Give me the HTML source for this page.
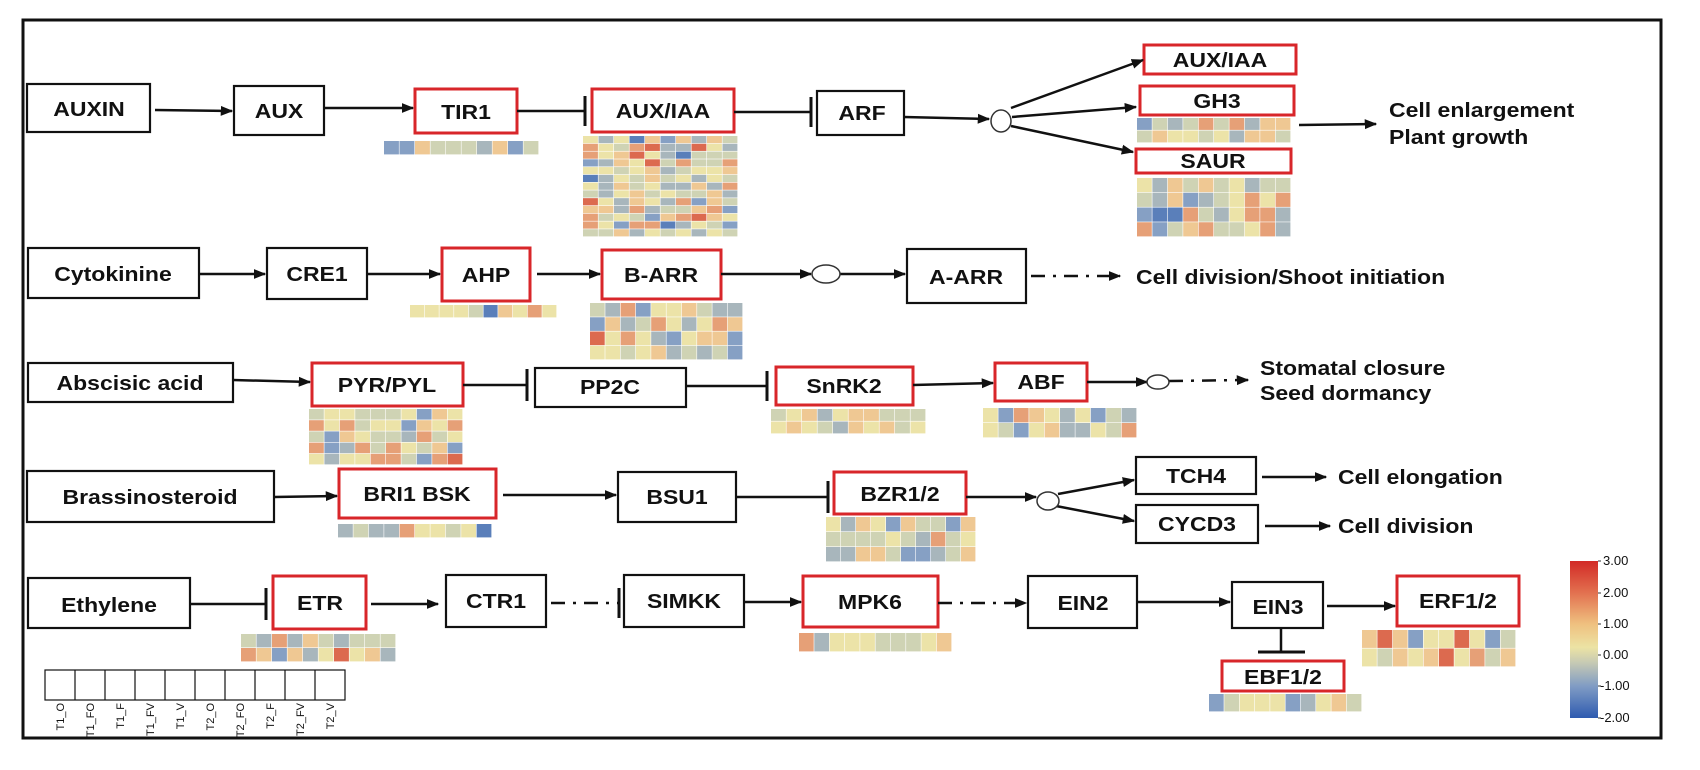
<!DOCTYPE html>
<html><head><meta charset="utf-8">
<style>
html,body{margin:0;padding:0;background:#fff;}
svg{display:block;}
text{font-family:"Liberation Sans",Arial,sans-serif;font-weight:bold;fill:#111;}
</style></head>
<body>
<svg id="s" width="1700" height="770" viewBox="0 0 1700 770" xmlns="http://www.w3.org/2000/svg">
<defs>
<marker id="a" viewBox="0 0 10 10" refX="9" refY="5" markerWidth="5" markerHeight="5" orient="auto"><path d="M0,1 L10,5 L0,9 z" fill="#111"/></marker>
<linearGradient id="cb" x1="0" y1="0" x2="0" y2="1">
<stop offset="0" stop-color="#d22a26"/><stop offset="0.2" stop-color="#e2704f"/><stop offset="0.4" stop-color="#efc07f"/><stop offset="0.55" stop-color="#ece3a4"/><stop offset="0.65" stop-color="#c5c9b4"/><stop offset="0.8" stop-color="#7f9bc4"/><stop offset="1" stop-color="#2e5bb0"/>
</linearGradient>
</defs>
<rect x="23" y="20" width="1638" height="718" fill="none" stroke="#111" stroke-width="3"/>
<g id="boxes" fill="#fff" stroke-width="2.2"></g>
<g id="hm"></g>
<g id="lines" stroke="#111" stroke-width="2.5" fill="none"></g>

<g font-size="20">
<text transform="matrix(1.15 0 0 1 89 109)" text-anchor="middle" dominant-baseline="central">AUXIN</text>
<text transform="matrix(1.15 0 0 1 279 111)" text-anchor="middle" dominant-baseline="central">AUX</text>
<text transform="matrix(1.15 0 0 1 466 112)" text-anchor="middle" dominant-baseline="central">TIR1</text>
<text transform="matrix(1.15 0 0 1 663 111)" text-anchor="middle" dominant-baseline="central">AUX/IAA</text>
<text transform="matrix(1.15 0 0 1 862 113)" text-anchor="middle" dominant-baseline="central">ARF</text>
<text transform="matrix(1.15 0 0 1 1220 60)" text-anchor="middle" dominant-baseline="central">AUX/IAA</text>
<text transform="matrix(1.15 0 0 1 1217 101)" text-anchor="middle" dominant-baseline="central">GH3</text>
<text transform="matrix(1.15 0 0 1 1213 161)" text-anchor="middle" dominant-baseline="central">SAUR</text>
<text transform="matrix(1.15 0 0 1 1389 110)" dominant-baseline="central">Cell enlargement</text>
<text transform="matrix(1.15 0 0 1 1389 137)" dominant-baseline="central">Plant growth</text>

<text transform="matrix(1.15 0 0 1 113 274)" text-anchor="middle" dominant-baseline="central">Cytokinine</text>
<text transform="matrix(1.15 0 0 1 317 274)" text-anchor="middle" dominant-baseline="central">CRE1</text>
<text transform="matrix(1.15 0 0 1 486 275)" text-anchor="middle" dominant-baseline="central">AHP</text>
<text transform="matrix(1.15 0 0 1 661 275)" text-anchor="middle" dominant-baseline="central">B-ARR</text>
<text transform="matrix(1.15 0 0 1 966 277)" text-anchor="middle" dominant-baseline="central">A-ARR</text>
<text transform="matrix(1.15 0 0 1 1136 277)" dominant-baseline="central">Cell division/Shoot initiation</text>

<text transform="matrix(1.15 0 0 1 130 383)" text-anchor="middle" dominant-baseline="central">Abscisic acid</text>
<text transform="matrix(1.15 0 0 1 387 385)" text-anchor="middle" dominant-baseline="central">PYR/PYL</text>
<text transform="matrix(1.15 0 0 1 610 387)" text-anchor="middle" dominant-baseline="central">PP2C</text>
<text transform="matrix(1.15 0 0 1 844 386)" text-anchor="middle" dominant-baseline="central">SnRK2</text>
<text transform="matrix(1.15 0 0 1 1041 382)" text-anchor="middle" dominant-baseline="central">ABF</text>
<text transform="matrix(1.15 0 0 1 1260 368)" dominant-baseline="central">Stomatal closure</text>
<text transform="matrix(1.15 0 0 1 1260 393)" dominant-baseline="central">Seed dormancy</text>

<text transform="matrix(1.15 0 0 1 150 497)" text-anchor="middle" dominant-baseline="central">Brassinosteroid</text>
<text transform="matrix(1.15 0 0 1 417 494)" text-anchor="middle" dominant-baseline="central">BRI1 BSK</text>
<text transform="matrix(1.15 0 0 1 677 497)" text-anchor="middle" dominant-baseline="central">BSU1</text>
<text transform="matrix(1.15 0 0 1 900 494)" text-anchor="middle" dominant-baseline="central">BZR1/2</text>
<text transform="matrix(1.15 0 0 1 1196 476)" text-anchor="middle" dominant-baseline="central">TCH4</text>
<text transform="matrix(1.15 0 0 1 1197 524)" text-anchor="middle" dominant-baseline="central">CYCD3</text>
<text transform="matrix(1.15 0 0 1 1338 477)" dominant-baseline="central">Cell elongation</text>
<text transform="matrix(1.15 0 0 1 1338 526)" dominant-baseline="central">Cell division</text>

<text transform="matrix(1.15 0 0 1 109 605)" text-anchor="middle" dominant-baseline="central">Ethylene</text>
<text transform="matrix(1.15 0 0 1 320 603)" text-anchor="middle" dominant-baseline="central">ETR</text>
<text transform="matrix(1.15 0 0 1 496 601)" text-anchor="middle" dominant-baseline="central">CTR1</text>
<text transform="matrix(1.15 0 0 1 684 601)" text-anchor="middle" dominant-baseline="central">SIMKK</text>
<text transform="matrix(1.15 0 0 1 870 602)" text-anchor="middle" dominant-baseline="central">MPK6</text>
<text transform="matrix(1.15 0 0 1 1083 603)" text-anchor="middle" dominant-baseline="central">EIN2</text>
<text transform="matrix(1.15 0 0 1 1278 607)" text-anchor="middle" dominant-baseline="central">EIN3</text>
<text transform="matrix(1.15 0 0 1 1458 601)" text-anchor="middle" dominant-baseline="central">ERF1/2</text>
<text transform="matrix(1.15 0 0 1 1283 677)" text-anchor="middle" dominant-baseline="central">EBF1/2</text>
</g>

<rect x="1570" y="561" width="28" height="157" fill="url(#cb)"/>
<g font-size="13">
<text x="1603" y="565" style="font-weight:normal">3.00</text>
<text x="1603" y="597" style="font-weight:normal">2.00</text>
<text x="1603" y="628" style="font-weight:normal">1.00</text>
<text x="1603" y="659" style="font-weight:normal">0.00</text>
<text x="1600" y="690" style="font-weight:normal">-1.00</text>
<text x="1600" y="722" style="font-weight:normal">-2.00</text>
</g>
<g stroke="#333" stroke-width="1">
<line x1="1598" y1="561" x2="1601" y2="561"/><line x1="1598" y1="593" x2="1601" y2="593"/><line x1="1598" y1="624" x2="1601" y2="624"/><line x1="1598" y1="655" x2="1601" y2="655"/><line x1="1598" y1="686" x2="1601" y2="686"/><line x1="1598" y1="718" x2="1601" y2="718"/>
</g>

<rect x="45" y="670" width="300" height="30" fill="#fff" stroke="#111" stroke-width="1.2"/>
<g id="leg" stroke="#111" stroke-width="1.2"></g>
<g id="legt" font-size="11"></g>
</svg>
<script>
var NS="http://www.w3.org/2000/svg";
function el(p,t,a){var e=document.createElementNS(NS,t);for(var k in a)e.setAttribute(k,a[k]);document.getElementById(p).appendChild(e);return e;}
var B=[[27,84,150,132,0],[234,86,324,135,0],[415,89,517,133,1],[592,89,734,132,1],[817,91,904,135,0],
[1144,45,1296,74,1],[1140,86,1294,115,1],[1136,149,1291,173,1],
[28,248,199,298,0],[267,248,367,299,0],[442,248,530,301,1],[602,250,721,299,1],[907,249,1026,303,0],
[28,363,233,402,0],[312,363,463,406,1],[535,368,686,407,0],[776,367,913,405,1],[995,363,1087,401,1],
[27,471,274,522,0],[339,469,496,518,1],[618,472,736,522,0],[834,472,966,514,1],[1136,457,1256,494,0],[1136,505,1258,543,0],
[28,578,190,628,0],[273,576,366,629,1],[446,575,546,627,0],[624,575,744,627,0],[803,576,938,627,1],[1028,576,1137,628,0],[1232,582,1323,628,0],[1397,576,1519,626,1],[1222,661,1344,691,1]];
B.forEach(function(b){el("boxes","rect",{x:b[0],y:b[1],width:b[2]-b[0],height:b[3]-b[1],stroke:b[4]?"#d8262a":"#111","stroke-width":b[4]?3:2.2,fill:"#fff"});});
function ar(x1,y1,x2,y2,d){var a={x1:x1,y1:y1,x2:x2,y2:y2,"marker-end":"url(#a)"};if(d)a["stroke-dasharray"]="14 8 3 8";el("lines","line",a);}
function inh(x1,y1,x2,h,d){var a={x1:x1,y1:y1,x2:x2,y2:y1};if(d)a["stroke-dasharray"]="14 8 3 8";el("lines","line",a);el("lines","line",{x1:x2,y1:y1-h,x2:x2,y2:y1+h,"stroke-width":3});}
ar(155,110,232,111);ar(324,108,413,108);inh(517,111,585,15);inh(734,112,811,15);ar(904,117,989,119);
ar(1011,108,1143,60);ar(1012,117,1136,107);ar(1011,126,1133,152);ar(1299,125,1376,124);
ar(199,274,265,274);ar(367,274,440,274);ar(537,274,600,274);ar(721,274,811,274);ar(840,274,905,274);ar(1031,276,1120,276,1);
ar(233,380,310,382);inh(463,385,527,16);inh(686,386,767,15);ar(913,385,993,383);ar(1087,382,1147,382);ar(1169,381,1248,380,1);
ar(274,497,337,496);ar(503,495,616,495);inh(736,497,828,16);ar(966,497,1036,497);ar(1058,494,1134,480);ar(1056,506,1134,521);ar(1262,477,1326,477);ar(1265,526,1330,526);
inh(190,604,266,16);ar(371,604,438,604);inh(551,603,619,15,1);ar(744,602,801,602);ar(938,603,1026,603,1);ar(1137,602,1230,602);ar(1327,606,1395,606);
el("lines","line",{x1:1281,y1:628,x2:1281,y2:652});el("lines","line",{x1:1258,y1:652,x2:1305,y2:652,"stroke-width":3});
[[1001,121,10,11],[826,274,14,9],[1158,382,11,7],[1048,501,11,9]].forEach(function(c){el("lines","ellipse",{cx:c[0],cy:c[1],rx:c[2],ry:c[3],fill:"#fff","stroke-width":1.5,stroke:"#333"});});
var P=["#5a7fba","#86a0c4","#a8b6bc","#cfd3b4","#ece3a8","#efc893","#e6a077","#dc6a4f"];
var seed=11;function rnd(){seed=(seed*16807)%2147483647;return seed/2147483647;}
function hm(x1,y1,x2,y2,r){var w=(x2-x1)/10,h=(y2-y1)/r;for(var i=0;i<r;i++)for(var j=0;j<10;j++){var v=(rnd()+rnd())/2;var k=Math.min(7,Math.floor(v*8));el("hm","rect",{x:x1+j*w,y:y1+i*h,width:w-0.6,height:h-0.6,fill:P[k]});}}
hm(384,141,539,155,1);hm(583,136,738,237,13);hm(1137,118,1291,143,2);hm(1137,178,1291,237,4);
hm(410,305,557,318,1);hm(590,303,743,360,4);
hm(309,409,463,465,5);hm(771,409,926,434,2);hm(983,408,1137,438,2);
hm(338,524,492,538,1);hm(826,517,976,562,3);
hm(241,634,396,662,2);hm(799,633,952,652,1);hm(1362,630,1516,667,2);hm(1209,694,1362,712,1);
var L=["T1_O","T1_FO","T1_F","T1_FV","T1_V","T2_O","T2_FO","T2_F","T2_FV","T2_V"];
for(var i=1;i<10;i++){var x=45+i*30;el("leg","line",{x1:x,y1:670,x2:x,y2:700});}
L.forEach(function(t,i){var cx=60+i*30;var e=el("legt","text",{transform:"translate("+(cx+4)+",703) rotate(-90)","text-anchor":"end",style:"font-weight:normal"});e.textContent=t;});
</script>
</body></html>
